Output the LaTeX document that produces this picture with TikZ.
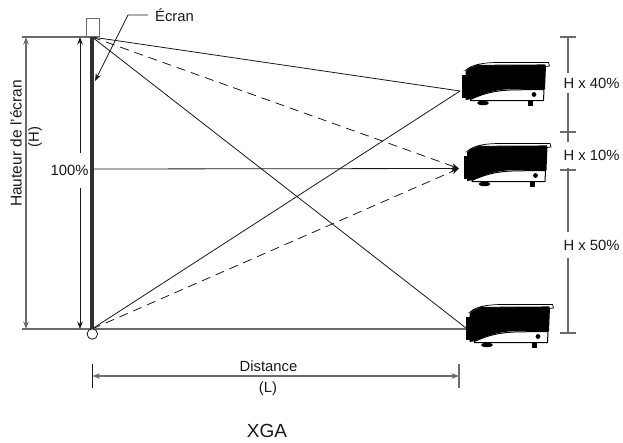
\documentclass[tikz,border=0pt]{standalone}
\usepackage{fontspec}
\setmainfont{Liberation Sans}
\usepackage{xcolor}
\usetikzlibrary{arrows.meta, positioning}
\definecolor{linegray}{gray}{0.42}
\definecolor{inkblack}{gray}{0.1}
\tikzset{
  label/.style={font=\fontsize{14.8}{16}\selectfont, text=inkblack, inner sep=0pt},
  gaplabel/.style={label, fill=white},
  guide/.style={draw=linegray, line width=1.2pt},
  ray/.style={draw=inkblack, line width=0.8pt},
  dashray/.style={ray, dash pattern=on 9pt off 6pt},
  arrow/.style={-{Stealth[length=7.5pt,width=5.5pt]}, draw=inkblack},
  dblarrow/.style={{Stealth[length=7.5pt,width=5.5pt]}-{Stealth[length=7.5pt,width=5.5pt]}},
  projector/.pic={
    % lens block, body, lid, base band
    \fill[black] (0,13) rectangle (4.5,36);
    \fill[black] (3.5,9) -- (14,3) -- (84,3) -- (83,27) -- (50,27)
      .. controls (30,28) and (20,32) .. (10,37) -- (3.5,38) -- cycle;
    \draw[black, fill=white, line width=0.7pt] (4,8) .. controls (10,3) and (18,0.5) .. (40,0.4)
      -- (86.5,0.4) -- (87.5,4) -- (83.5,4.5) -- (83,2.8) -- (16,3.2) -- cycle;
    \draw[black, fill=white, line width=1pt] (8.5,37.5) .. controls (22,31) and (35,28) .. (55,27.8)
      -- (82,27.5) -- (81.5,38.5) -- (8.5,38.5) -- cycle;
    \fill[black] (72,32.5) circle (2.4);
    \fill[black] (21,41) ellipse (6 and 2.2);
    \fill[black] (66,39) rectangle (71,44);
  }
}
\begin{document}
\begin{tikzpicture}[x=1pt, y=-1pt]
  \useasboundingbox (0,0) rectangle (623,442);
  % screen ends and projector lens points
  \coordinate (top) at (92,37);
  \coordinate (bottom) at (92,329);
  \coordinate (lensa) at (460,91);
  \coordinate (lensb) at (459,168.5);
  \coordinate (lensc) at (466,328);
  \coordinate (midscreen) at (92,169);

  % projectors
  \pic at (462,62) {projector};
  \pic at (463.5,143) {projector};
  \pic at (466,304) {projector};

  % rays
  \draw[ray] (top) -- (lensa);
  \draw[ray] (bottom) -- (lensa);
  \draw[ray] (top) -- (lensc);
  \draw[dashray, arrow] (top) -- (lensb);
  \draw[dashray, arrow] (bottom) -- (lensb);
  \draw[ray, arrow] (midscreen) -- (lensb);

  % horizontal guides
  \coordinate (topleft) at (22,37);
  \coordinate (botleft) at (22,329);
  \coordinate (hta) at (26,37);
  \coordinate (hba) at (26,329);
  \coordinate (htb) at (80,37);
  \coordinate (hbb) at (80,329);
  \draw[guide] (topleft) -- (top);
  \draw[guide] (botleft) -- (lensc |- botleft);
  \draw[guide, dblarrow] (hta) -- (hba);
  \draw[ray, dblarrow] (htb) -- (hbb);

  % screen
  \node[draw=linegray, fill=white, line width=0.8pt, minimum width=13pt, minimum height=18pt, inner sep=0pt] (camera) at (92.5,27) {};
  \draw[line width=3.4pt, draw=inkblack!90] (top) -- (bottom);
  \node[circle, draw=inkblack, fill=white, line width=0.8pt, minimum size=10.5pt, inner sep=0pt] (pivot) at (92.3,334) {};

  % labels on the left
  \node[gaplabel, minimum height=35pt] (pct) at (69.5,170.5) {100\%};
  \node[label, rotate=90, font=\fontsize{15.5}{17}\selectfont] (hauteur) at (16,143.5) {Hauteur de l'écran};
  \node[label, rotate=90] (hsym) at (35,137) {(H)};
  \node[label, anchor=base west] (ecran) at (155,21) {Écran};
  \coordinate (leadera) at (148,15);
  \coordinate (leaderb) at (128,15);
  \coordinate (leaderc) at (95,81);
  \draw[ray, arrow] (leadera) -- (leaderb) -- (leaderc);

  % scale on the right
  \coordinate (ta) at (568,37);
  \coordinate (tb) at (568,132);
  \coordinate (tc) at (568,170);
  \coordinate (td) at (568,333);
  \draw[guide] (ta) -- (td);
  \foreach \t in {ta,tb,tc,td} {
    \draw[guide] ([xshift=-8pt]\t) -- ([xshift=8pt]\t);
  }
  \node[gaplabel, minimum height=20pt] (hforty) at (591.5,83) {H x 40\%};
  \node[gaplabel, minimum height=26pt] (hten) at (591.5,155) {H x 10\%};
  \node[gaplabel, minimum height=26pt] (hfifty) at (591.5,245) {H x 50\%};

  % distance
  \coordinate (da) at (92.5,376);
  \coordinate (db) at (459,376);
  \draw[guide, dblarrow] (da) -- (db);
  \draw[ray] ([yshift=-12pt]da) -- ([yshift=12pt]da);
  \draw[guide] ([yshift=-12pt]db) -- ([yshift=12pt]db);
  \node[label] (dist) at (268.5,366) {Distance};
  \node[label] (lsym) at (268,389) {(L)};
  \node[label, font=\fontsize{19}{21}\selectfont] (xga) at (267,431) {XGA};
\end{tikzpicture}
\end{document}
